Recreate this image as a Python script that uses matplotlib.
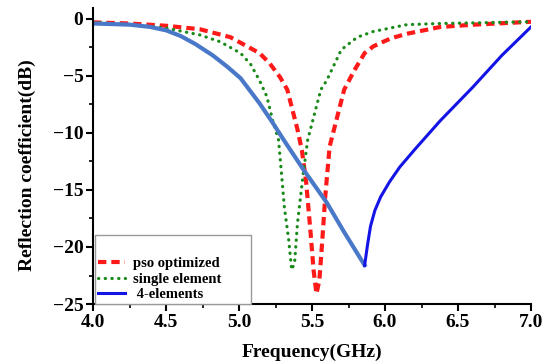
import matplotlib
matplotlib.use("Agg")
import matplotlib.pyplot as plt
from matplotlib.ticker import MultipleLocator, FormatStrFormatter

plt.rcParams["font.family"] = ["Liberation Serif", "DejaVu Serif"]
plt.rcParams["font.weight"] = "bold"

# pso optimized
pso_f = [4.0, 4.25, 4.5, 4.73, 4.94, 5.14, 5.21, 5.28, 5.33, 5.37, 5.40, 5.43, 5.46, 5.49,
         5.51, 5.53, 5.55, 5.57, 5.59, 5.62, 5.66, 5.72, 5.79, 5.86, 5.92, 6.04, 6.15,
         6.38, 6.61, 7.0]
pso_s = [-0.3, -0.4, -0.6, -0.9, -1.6, -3.0, -3.9, -5.1, -6.2, -8.2, -9.7, -11.5, -14.4, -18.8,
         -22.0, -24.1, -22.9, -19.4, -15.6, -11.2, -9.2, -6.2, -4.5, -3.0, -2.4, -1.7, -1.3,
         -0.7, -0.5, -0.25]

# single element
single_f = [4.0, 4.25, 4.5, 4.73, 4.87, 5.01, 5.08, 5.14, 5.19, 5.23, 5.27, 5.29, 5.31, 5.34,
            5.36, 5.38, 5.40, 5.44, 5.47, 5.56, 5.60, 5.70, 5.81, 5.92, 6.15, 6.38, 7.0]
single_s = [-0.3, -0.5, -0.8, -1.4, -2.0, -3.0, -4.0, -5.4, -6.8, -8.9, -10.6, -13.5, -16.5, -19.4,
            -22.0, -21.4, -17.9, -13.5, -10.6, -6.2, -5.4, -2.7, -1.6, -1.1, -0.5, -0.4, -0.25]

# 4-elements, traced in two parts
four_f1 = [4.0, 4.25, 4.39, 4.5, 4.6, 4.7, 4.82, 4.92, 5.01, 5.14, 5.23, 5.30, 5.44, 5.60,
           5.72, 5.86]
four_s1 = [-0.4, -0.5, -0.7, -1.0, -1.5, -2.2, -3.2, -4.2, -5.2, -7.4, -9.1, -10.5, -13.2, -16.1,
           -18.7, -21.6]
four_f2 = [5.86, 5.88, 5.90, 5.93, 5.97, 6.03, 6.10, 6.2, 6.38, 6.6, 6.8, 7.0]
four_s2 = [-21.6, -19.8, -18.2, -16.8, -15.6, -14.3, -13.0, -11.5, -8.9, -6.0, -3.2, -0.7]

fig = plt.figure(figsize=(5.48, 3.63), dpi=100)
ax = fig.add_axes([0.170, 0.1625, 0.799, 0.8155])

ax.plot(pso_f, pso_s, color="#ff1a1a", lw=3, ls=(0, (2.0, 1.2)), label="pso optimized")
ax.plot(single_f, single_s, color="#1a8a1a", lw=2.3, ls=(0, (0.1, 2.0)),
        dash_capstyle="round", label="single element")
ax.plot(four_f1, four_s1, color="#4a78c8", lw=3, solid_joinstyle="round")
ax.plot(four_f2, four_s2, color="#1414e6", lw=2.2, solid_joinstyle="round", label=" 4-elements")

ax.set_xlim(4.0, 7.0)
ax.set_ylim(-25, 0.96)
ax.xaxis.set_major_locator(MultipleLocator(0.5))
ax.xaxis.set_minor_locator(MultipleLocator(0.25))
ax.yaxis.set_major_locator(MultipleLocator(5))
ax.yaxis.set_minor_locator(MultipleLocator(2.5))
ax.xaxis.set_major_formatter(FormatStrFormatter("%.1f"))

for s in ["top", "right"]:
    ax.spines[s].set_visible(False)
for s in ["left", "bottom"]:
    ax.spines[s].set_linewidth(1.5)
ax.tick_params(which="major", length=5, width=1.5, labelsize=14, pad=2)
ax.tick_params(which="minor", length=3, width=1.2)
for lbl in ax.get_xticklabels() + ax.get_yticklabels():
    lbl.set_fontweight("bold")

ax.set_ylabel("Reflection coefficient(dB)", fontsize=14, fontweight="bold")
ax.set_xlabel("Frequency(GHz)", fontsize=14, fontweight="bold")
ax.yaxis.set_label_coords(-0.13, 0.47)
ax.xaxis.set_label_coords(0.5, -0.135)

leg = ax.legend(loc="lower left", bbox_to_anchor=(0.005, 0.0, 0.356, 0.24), mode="expand",
                borderaxespad=0, fontsize=10.5, title=" ", title_fontsize=14,
                handlelength=1.8, handletextpad=0.6,
                fancybox=False, framealpha=1, edgecolor="#999999",
                borderpad=0.2, labelspacing=0.15)
for t in leg.get_texts():
    t.set_fontweight("bold")

fig.savefig("out.png", dpi=100)
